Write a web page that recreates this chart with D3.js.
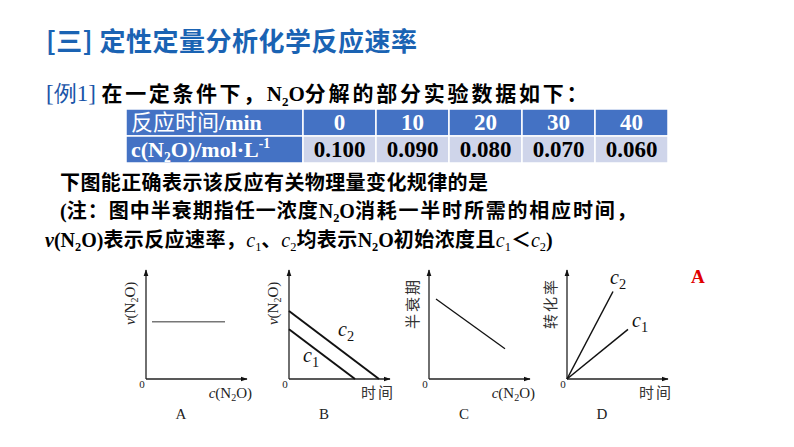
<!DOCTYPE html>
<html><head><meta charset="utf-8">
<script src="https://cdn.jsdelivr.net/npm/d3@7"></script>
<style>body{margin:0;background:#fff}svg{display:block}</style>
</head><body>
<svg id="c" width="794" height="447"></svg>
<script>
// ---------- data ----------
const times = [0, 10, 20, 30, 40];
const concs = ["0.100", "0.090", "0.080", "0.070", "0.060"];
const rowLabels = ["反应时间/min", "c(N2O)/mol·L-1"];
const panelLetters = ["A", "B", "C", "D"];
// panel series in unit coordinates (x: 0..1 along axis, y: 0..1 up axis)
const seriesA = [[0.06, 0.53], [0.79, 0.53]];
const seriesB_c2 = [[0, 0.63], [0.90, 0]];
const seriesB_c1 = [[0, 0.46], [0.66, 0]];
const seriesC = [[0.07, 0.74], [0.76, 0.28]];
const seriesD_c2 = [[0, 0], [0.46, 0.81]];
const seriesD_c1 = [[0, 0], [0.61, 0.46]];
const answer = "A";

const svg = d3.select("#c");
svg.append("rect").attr("width",794).attr("height",447).attr("fill","#fff");
const CJK = "'Noto Sans CJK SC', sans-serif";
const SERIF = "'Liberation Serif', 'Times New Roman', serif";

function rich(x, y, parts, size, opts={}) {
  const t = svg.append("text").attr("x", x).attr("y", y).attr("font-size", size);
  if (opts.anchor) t.attr("text-anchor", opts.anchor);
  parts.forEach(p => {
    const s = t.append("tspan").text(p.t)
      .attr("font-family", p.f === "s" ? SERIF : CJK)
      .attr("font-weight", p.b === false ? 400 : 700)
      .attr("fill", p.c || opts.fill || "#000");
    if (p.i) s.attr("font-style", "italic");
    if (p.ls) s.attr("letter-spacing", p.ls);
    if (p.fs) s.attr("font-size", p.fs);
    if (p.sub) s.attr("font-size", size*0.62).attr("dy", size*0.22);
    if (p.sup) s.attr("font-size", size*0.62).attr("dy", -size*0.42);
    if (p.back) s.attr("dy", p.back);
  });
  return t;
}

// title
rich(46, 51, [{t:"[三] 定性定量分析化学反应速率", c:"#1a63b3", ls:0.5}], 26);

// line 2
rich(46, 101, [
  {t:"[例1] ", f:"s", b:false, c:"#1a55a8", fs:23},
  {t:"在一定条件下，", ls:2.6},
  {t:"N", f:"s"}, {t:"2", f:"s", sub:true}, {t:"O", f:"s", back:-21*0.22},
  {t:"分解的部分实验数据如下：", ls:2.8}
], 21);

// ---------- table ----------
const tblTop = 109, rowH = 27, tblLeft = 126, firstColR = 303, tblRight = 668;
const colX = d3.scaleBand().domain(times).range([firstColR, tblRight]);
const rowFill = ["#4472c4", "#cfd5ea"];
[0,1].forEach(r => {
  const y = tblTop + r*rowH;
  svg.append("rect").attr("x", tblLeft).attr("y", y).attr("width", firstColR - tblLeft).attr("height", rowH)
    .attr("fill", "#4472c4").attr("stroke", "#fff").attr("stroke-width", 1.5);
  svg.selectAll(null).data(times).join("rect")
    .attr("x", d => colX(d)).attr("y", y).attr("width", colX.bandwidth()).attr("height", rowH)
    .attr("fill", rowFill[r]).attr("stroke", "#fff").attr("stroke-width", 1.5);
});
// header row label
rich(131, tblTop + 21, [{t:"反应时间", b:false, c:"#fff"}, {t:"/min", f:"s", c:"#fff"}], 22);
rich(131, tblTop + rowH + 21, [
  {t:"c(N", f:"s", c:"#fff"}, {t:"2", f:"s", sub:true, c:"#fff"}, {t:"O)/mol·L", f:"s", c:"#fff", back:-22*0.22},
  {t:"-1", f:"s", sup:true, c:"#fff"}
], 22);
svg.selectAll(null).data(times).join("text")
  .attr("x", d => colX(d) + colX.bandwidth()/2).attr("y", tblTop + 21)
  .attr("text-anchor","middle").attr("font-family", SERIF).attr("font-weight",700)
  .attr("font-size",23).attr("fill","#fff").text(d => d);
svg.selectAll(null).data(concs).join("text")
  .attr("x", (d,i) => colX(times[i]) + colX.bandwidth()/2).attr("y", tblTop + rowH + 21)
  .attr("text-anchor","middle").attr("font-family", SERIF).attr("font-weight",700)
  .attr("font-size",23).attr("fill","#000").text(d => d);

// lines 3-5
rich(60, 190, [{t:"下图能正确表示该反应有关物理量变化规律的是", ls:0.4}], 20);
rich(60, 218, [
  {t:"(", f:"s"}, {t:"注：图中半衰期指任一浓度", ls:1},
  {t:"N", f:"s"}, {t:"2", f:"s", sub:true}, {t:"O", f:"s", back:-20*0.22},
  {t:"消耗一半时所需的相应时间，", ls:1.8}
], 20);
rich(45, 247, [
  {t:"v", f:"s", i:true}, {t:"(N", f:"s"}, {t:"2", f:"s", sub:true}, {t:"O)", f:"s", back:-20*0.22},
  {t:"表示反应速率，", ls:0.4},
  {t:"c", f:"s", i:true, b:false}, {t:"1", f:"s", sub:true, b:false}, {t:"、", back:-20*0.22},
  {t:"c", f:"s", i:true, b:false}, {t:"2", f:"s", sub:true, b:false}, {t:"均表示", back:-20*0.22, ls:0.4},
  {t:"N", f:"s"}, {t:"2", f:"s", sub:true}, {t:"O", f:"s", back:-20*0.22},
  {t:"初始浓度且", ls:0.4},
  {t:"c", f:"s", i:true, b:false}, {t:"1", f:"s", sub:true, b:false}, {t:"＜", back:-20*0.22},
  {t:"c", f:"s", i:true, b:false}, {t:"2", f:"s", sub:true, b:false}, {t:")", f:"s", back:-20*0.22}
], 20);

// answer
svg.append("text").attr("x", 691).attr("y", 283).attr("font-family", SERIF).attr("font-weight",700)
  .attr("font-size",19).attr("fill","#e00000").text(answer);

// ---------- panels ----------
svg.append("defs").append("marker").attr("id","arr").attr("viewBox","0 0 10 10")
  .attr("refX",9).attr("refY",5).attr("markerWidth",7).attr("markerHeight",7)
  .attr("markerUnits","userSpaceOnUse").attr("orient","auto")
  .append("path").attr("d","M0,1.5L10,5L0,8.5Z").attr("fill","#111");

const panelOrigins = [146, 289, 429, 567];
const oy = 379, pw = 100, ph = 108;

function panel(i, yLabel, xLabel, series) {
  const ox = panelOrigins[i];
  const x = d3.scaleLinear().domain([0,1]).range([ox, ox+pw]);
  const y = d3.scaleLinear().domain([0,1]).range([oy, oy-ph]);
  const g = svg.append("g");
  g.append("line").attr("x1", x(0)).attr("x2", x(1)+1).attr("y1", y(0)).attr("y2", y(0))
    .attr("stroke","#222").attr("stroke-width",1.3).attr("marker-end","url(#arr)");
  g.append("line").attr("x1", x(0)).attr("x2", x(0)).attr("y1", y(0)).attr("y2", y(1)-1)
    .attr("stroke","#222").attr("stroke-width",1.3).attr("marker-end","url(#arr)");
  g.append("text").attr("x", x(0)-4).attr("y", y(0)+9).attr("text-anchor","middle")
    .attr("font-family",SERIF).attr("font-size",11).attr("fill","#222").text("0");
  const line = d3.line().x(d => x(d[0])).y(d => y(d[1]));
  series.forEach(s => {
    g.append("path").attr("d", line(s.data)).attr("fill","none")
      .attr("stroke", s.color || "#111").attr("stroke-width", s.w || 1.5);
    if (s.label) {
      const lp = s.labelAt;
      const t = g.append("text").attr("x", x(lp[0])).attr("y", y(lp[1]))
        .attr("font-family",SERIF).attr("font-size", s.ls || 20).attr("fill","#111");
      t.append("tspan").attr("font-style","italic").text("c");
      t.append("tspan").attr("font-size",(s.ls||20)*0.72).attr("dy",(s.ls||20)*0.25).text(s.label);
    }
  });
  // y label (rotated)
  const yl = g.append("text").attr("transform", `translate(${x(0)-11},${y(0.7)}) rotate(-90)`)
    .attr("text-anchor","middle").attr("font-size",15).attr("fill","#222");
  yLabel(yl);
  // x label
  const xl = g.append("text").attr("x", x(1)+6).attr("y", y(0)+19).attr("text-anchor","end")
    .attr("font-size",15).attr("fill","#222");
  xLabel(xl);
  // letter
  g.append("text").attr("x", x(0.35)).attr("y", y(0)+40).attr("text-anchor","middle")
    .attr("font-family",SERIF).attr("font-size",15).attr("fill","#222").text(panelLetters[i]);
}
const vLabel = t => {
  t.attr("font-family",SERIF);
  t.append("tspan").attr("font-style","italic").text("v");
  t.append("tspan").text("(N");
  t.append("tspan").attr("font-size",10).attr("dy",3).text("2");
  t.append("tspan").attr("dy",-3).text("O)");
};
const cLabel = t => {
  t.attr("font-family",SERIF);
  t.append("tspan").attr("font-style","italic").text("c");
  t.append("tspan").text("(N");
  t.append("tspan").attr("font-size",10).attr("dy",3).text("2");
  t.append("tspan").attr("dy",-3).text("O)");
};
const cjkLabel = s => t => t.attr("font-family",CJK).attr("font-weight",400).attr("fill","#333").attr("letter-spacing",2).text(s);

panel(0, vLabel, cLabel, [{data: seriesA, color:"#777", w:1.6}]);
panel(1, vLabel, cjkLabel("时间"), [
  {data: seriesB_c2, w:2, label:"2", labelAt:[0.49, 0.40]},
  {data: seriesB_c1, w:2, label:"1", labelAt:[0.14, 0.16]}
]);
panel(2, cjkLabel("半衰期"), cLabel, [{data: seriesC, w:1.3}]);
panel(3, cjkLabel("转化率"), cjkLabel("时间"), [
  {data: seriesD_c2, w:1.5, label:"2", labelAt:[0.43, 0.88]},
  {data: seriesD_c1, w:1.5, label:"1", labelAt:[0.65, 0.48]}
]);
</script>
</body></html>
